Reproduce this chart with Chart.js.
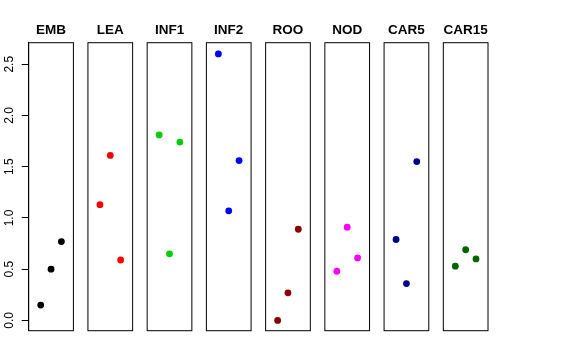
<!DOCTYPE html>
<html>
<head>
<meta charset="utf-8">
<script src="https://cdn.jsdelivr.net/npm/chart.js@4.4.0/dist/chart.umd.min.js"></script>
<style>
  html, body { margin: 0; padding: 0; background: #ffffff; }
  #wrap { position: relative; width: 576px; height: 360px; overflow: hidden; background: #ffffff; }
  #wrap canvas { position: absolute; left: 0; top: 0; }
</style>
</head>
<body>
<div id="wrap"></div>
<script>
// ---- data ----
const categories = ['EMB', 'LEA', 'INF1', 'INF2', 'ROO', 'NOD', 'CAR5', 'CAR15'];
const replicateX = [1, 2, 3];
const embValues   = [0.15, 0.50, 0.77];
const leaValues   = [1.13, 1.61, 0.59];
const inf1Values  = [1.81, 0.65, 1.74];
const inf2Values  = [2.60, 1.07, 1.56];
const rooValues   = [0.00, 0.27, 0.89];
const nodValues   = [0.48, 0.91, 0.61];
const car5Values  = [0.79, 0.36, 1.55];
const car15Values = [0.53, 0.69, 0.60];
const yTickValues = [0, 0.5, 1, 1.5, 2, 2.5];
const yTickLabels = ['0.0', '0.5', '1.0', '1.5', '2.0', '2.5'];

const seriesValues = [embValues, leaValues, inf1Values, inf2Values, rooValues, nodValues, car5Values, car15Values];
const seriesColors = ['#000000', '#FF0000', '#00CD00', '#0000FF', '#8B0000', '#FF00FF', '#00008B', '#006400'];

// ---- layout (styles) ----
const W = 576, H = 360;
const firstLeft = 28.7, panelStep = 59.23, panelWidth = 44.7;
const areaTop = 42.7, areaBottom = 330.7;
const padTop = 22;
const titleSize = 13.5;
const titleBlock = titleSize * 1.2;

const framePlugin = {
  id: 'frame',
  afterDatasetsDraw(chart) {
    const a = chart.chartArea;
    const ctx = chart.ctx;
    ctx.save();
    ctx.strokeStyle = '#000000';
    ctx.lineWidth = 1;
    ctx.strokeRect(a.left, a.top, a.right - a.left, a.bottom - a.top);
    ctx.restore();
  }
};

const wrap = document.getElementById('wrap');
categories.forEach((cat, i) => {
  const canvas = document.createElement('canvas');
  canvas.width = W; canvas.height = H;
  canvas.style.width = W + 'px'; canvas.style.height = H + 'px';
  wrap.appendChild(canvas);
  const left = firstLeft + panelStep * i;
  const right = left + panelWidth;
  const isFirst = i === 0;

  new Chart(canvas.getContext('2d'), {
    type: 'scatter',
    data: {
      datasets: [{
        label: cat,
        data: replicateX.map((x, j) => ({ x: x, y: seriesValues[i][j] })),
        backgroundColor: seriesColors[i],
        borderColor: seriesColors[i],
        borderWidth: 0,
        pointRadius: 3.4,
        pointHoverRadius: 3.4
      }]
    },
    options: {
      responsive: false,
      animation: false,
      devicePixelRatio: 1,
      events: [],
      layout: {
        padding: {
          left: isFirst ? 0 : left,
          right: W - right,
          top: padTop,
          bottom: H - areaBottom
        }
      },
      plugins: {
        legend: { display: false },
        tooltip: { enabled: false },
        title: {
          display: true,
          text: cat,
          fullSize: false,
          color: '#000000',
          font: { family: 'Liberation Sans, Arial, sans-serif', weight: 'bold', size: titleSize, lineHeight: 1.2 },
          padding: { top: 0, bottom: areaTop - padTop - titleBlock }
        }
      },
      scales: {
        x: {
          type: 'linear',
          display: false,
          min: -0.16,
          max: 4.16
        },
        y: {
          type: 'linear',
          display: isFirst,
          min: -0.1,
          max: 2.71,
          afterBuildTicks: (scale) => { scale.ticks = yTickValues.map(v => ({ value: v })); },
          afterFit: (scale) => { if (isFirst) scale.width = left; },
          grid: {
            display: true,
            drawOnChartArea: false,
            drawTicks: true,
            tickLength: 7,
            color: '#000000',
            lineWidth: 1
          },
          border: { display: true, color: '#000000', width: 1 },
          ticks: {
            minRotation: 90,
            maxRotation: 90,
            crossAlign: 'center',
            padding: 4,
            color: '#000000',
            font: { family: 'Liberation Sans, Arial, sans-serif', size: 12 },
            callback: (value) => {
              const k = yTickValues.indexOf(value);
              return k >= 0 ? yTickLabels[k] : '';
            }
          }
        }
      }
    },
    plugins: [framePlugin]
  });
});
</script>
</body>
</html>
